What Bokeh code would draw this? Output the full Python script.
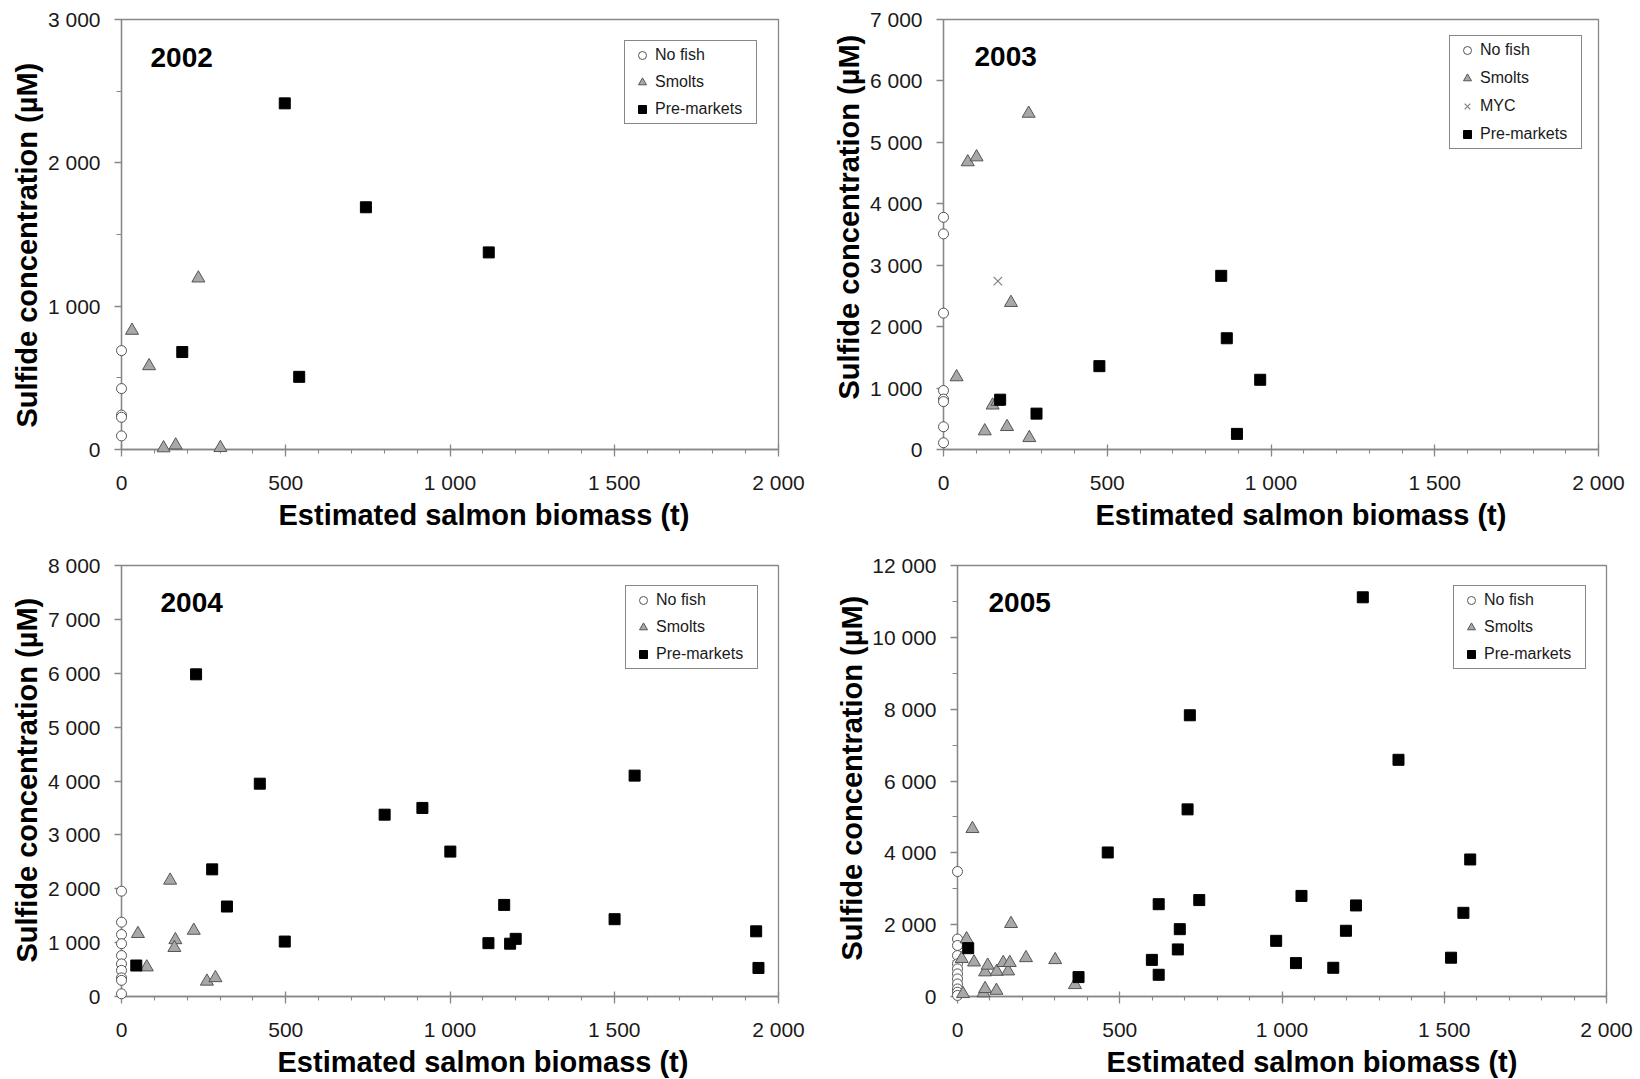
from bokeh.embed import file_html
from bokeh.layouts import column, row
from bokeh.models import FixedTicker, Label, Range1d, Title
from bokeh.plotting import figure
from bokeh.resources import INLINE

# ---------------------------------------------------------------------------
# Data: estimated salmon biomass (t) vs. sulfide concentration (µM)
# ---------------------------------------------------------------------------
categories = ["No fish", "Smolts", "MYC", "Pre-markets"]

# 2002
nofish_2002_biomass = [0, 0, 0, 0, 0]
nofish_2002_sulfide = [690, 425, 240, 225, 95]
smolts_2002_biomass = [32, 84, 234, 128, 165, 301]
smolts_2002_sulfide = [830, 583, 1195, 10, 30, 12]
premarkets_2002_biomass = [185, 497, 744, 541, 1118]
premarkets_2002_sulfide = [680, 2415, 1690, 507, 1375]

# 2003
nofish_2003_biomass = [0, 0, 0, 0, 0, 0, 0, 0]
nofish_2003_sulfide = [3780, 3510, 2220, 960, 820, 780, 370, 110]
smolts_2003_biomass = [74, 101, 260, 206, 40, 150, 165, 126, 194, 262]
smolts_2003_sulfide = [4680, 4760, 5470, 2390, 1180, 720, 780, 300, 370, 190]
myc_2003_biomass = [166]
myc_2003_sulfide = [2740]
premarkets_2003_biomass = [173, 284, 476, 848, 865, 967, 896]
premarkets_2003_sulfide = [811, 584, 1357, 2827, 1811, 1135, 254]

# 2004
nofish_2004_biomass = [0, 0, 0, 0, 0, 0, 0, 0, 0, 0]
nofish_2004_sulfide = [1955, 1380, 1150, 980, 760, 605, 485, 345, 300, 50]
smolts_2004_biomass = [50, 77, 148, 164, 161, 220, 260, 286]
smolts_2004_sulfide = [1165, 545, 2155, 1050, 905, 1225, 280, 345]
premarkets_2004_biomass = [45, 227, 276, 321, 421, 497, 801, 916, 1001, 1117,
                           1165, 1183, 1200, 1501, 1562, 1932, 1939]
premarkets_2004_sulfide = [575, 5980, 2360, 1670, 3950, 1020, 3375, 3500, 2690, 990,
                           1700, 980, 1070, 1435, 4100, 1210, 530]

# 2005
nofish_2005_biomass = [0, 0, 0, 0, 0, 0, 0, 0, 0, 0, 0, 0]
nofish_2005_sulfide = [3480, 1600, 1420, 1140, 910, 770, 630, 490, 350, 210, 120, 30]
smolts_2005_biomass = [46, 28, 13, 51, 85, 93, 121, 141, 156, 161, 165, 211, 301, 362,
                       80, 85, 120, 17]
smolts_2005_sulfide = [4670, 1600, 1050, 955, 680, 865, 695, 940, 705, 940, 2025, 1075,
                       1020, 325, 95, 215, 165, 75]
premarkets_2005_biomass = [33, 373, 463, 599, 620, 620, 679, 685, 709, 716, 745, 982,
                           1043, 1060, 1158, 1197, 1228, 1249, 1359, 1521, 1559, 1580]
premarkets_2005_sulfide = [1345, 540, 4010, 1020, 2570, 605, 1310, 1875, 5210, 7830, 2685,
                           1550, 930, 2800, 800, 1830, 2535, 11115, 6590, 1080, 2330, 3815]

# Axis ticks and their labels
biomass_ticks = [0, 500, 1000, 1500, 2000]
biomass_tick_labels = ["0", "500", "1 000", "1 500", "2 000"]
biomass_minor_ticks = [0, 100, 200, 300, 400, 500, 600, 700, 800, 900, 1000, 1100, 1200,
                       1300, 1400, 1500, 1600, 1700, 1800, 1900, 2000]

sulfide_ticks_2002 = [0, 1000, 2000, 3000]
sulfide_tick_labels_2002 = ["0", "1 000", "2 000", "3 000"]
sulfide_minor_2002 = [0, 500, 1000, 1500, 2000, 2500, 3000]

sulfide_ticks_2003 = [0, 1000, 2000, 3000, 4000, 5000, 6000, 7000]
sulfide_tick_labels_2003 = ["0", "1 000", "2 000", "3 000", "4 000", "5 000", "6 000", "7 000"]

sulfide_ticks_2004 = [0, 1000, 2000, 3000, 4000, 5000, 6000, 7000, 8000]
sulfide_tick_labels_2004 = ["0", "1 000", "2 000", "3 000", "4 000", "5 000", "6 000",
                            "7 000", "8 000"]

sulfide_ticks_2005 = [0, 2000, 4000, 6000, 8000, 10000, 12000]
sulfide_tick_labels_2005 = ["0", "2 000", "4 000", "6 000", "8 000", "10 000", "12 000"]
sulfide_minor_2005 = [0, 1000, 2000, 3000, 4000, 5000, 6000, 7000, 8000, 9000, 10000,
                      11000, 12000]

x_title = "Estimated salmon biomass (t)"
y_title = "Sulfide concentration (µM)"

# ---------------------------------------------------------------------------
# Styling
# ---------------------------------------------------------------------------
FONT = "Liberation Sans"
AXIS_GRAY = "#878787"
TEXT = "#1a1a1a"
X_MAX = 2000

MARKERS = {
    "No fish": dict(marker="circle", size=10, fill_color="white", line_color="#555555",
                    line_width=1),
    "Smolts": dict(marker="triangle", size=13, fill_color="#a8a8a8", line_color="#555555",
                   line_width=1),
    "MYC": dict(marker="x", size=12, fill_color=None, line_color="#808080", line_width=1.2),
    "Pre-markets": dict(marker="square", size=11, fill_color="black", line_color="black",
                        line_width=1),
}


def axis_title(text, offset, standoff):
    return Title(text=text, align="left", offset=offset, standoff=standoff,
                 text_font=FONT, text_font_style="bold", text_font_size="29px",
                 text_color="black")


def make_panel(year, borders, frame, y_max, y_ticks, y_labels, y_minor, series,
               legend_margin, legend_spacing, year_offset, xtitle_offset, ytitle_offset):
    left, right, top, bottom = borders
    fw, fh = frame
    p = figure(width=left + fw + right, height=top + fh + bottom,
               x_range=Range1d(0, X_MAX), y_range=Range1d(0, y_max),
               output_backend="svg", toolbar_location=None,
               min_border_left=left, min_border_right=right,
               min_border_top=top, min_border_bottom=bottom)
    p.background_fill_color = "white"
    p.border_fill_color = "white"
    p.outline_line_color = AXIS_GRAY
    p.outline_line_width = 1.3
    p.xgrid.visible = False
    p.ygrid.visible = False

    p.xaxis.ticker = FixedTicker(ticks=biomass_ticks, minor_ticks=biomass_minor_ticks)
    p.xaxis.major_label_overrides = dict(zip(biomass_ticks, biomass_tick_labels))
    p.yaxis.ticker = FixedTicker(ticks=y_ticks, minor_ticks=y_minor)
    p.yaxis.major_label_overrides = dict(zip(y_ticks, y_labels))

    for ax in (p.xaxis[0], p.yaxis[0]):
        ax.axis_line_color = AXIS_GRAY
        ax.axis_line_width = 1.3
        ax.major_tick_line_color = AXIS_GRAY
        ax.major_tick_line_width = 1.3
        ax.minor_tick_line_color = AXIS_GRAY
        ax.minor_tick_line_width = 1.1
        ax.major_label_text_font = FONT
        ax.major_label_text_font_size = "21px"
        ax.major_label_text_color = TEXT
        ax.major_label_standoff = 14
    p.xaxis.major_tick_in = 5
    p.xaxis.major_tick_out = 7
    p.xaxis.minor_tick_in = 0
    p.xaxis.minor_tick_out = 4
    p.yaxis.major_tick_in = 0
    p.yaxis.major_tick_out = 7
    p.yaxis.minor_tick_in = 0
    p.yaxis.minor_tick_out = 5

    # axis titles, stacked outside the axes
    p.add_layout(axis_title(x_title, xtitle_offset, 0), "below")
    p.add_layout(axis_title(y_title, ytitle_offset, 4), "left")

    for name, xs, ys in series:
        r = p.scatter(xs, ys, legend_label=name, **MARKERS[name])
        r.level = "overlay"

    lg = p.legend[0]
    lg.location = "top_right"
    lg.margin = legend_margin
    lg.padding = 4
    lg.spacing = legend_spacing
    lg.label_height = 20
    lg.glyph_height = 20
    lg.glyph_width = 26
    lg.label_standoff = 0
    lg.label_width = 97
    lg.label_text_font = FONT
    lg.label_text_font_size = "16px"
    lg.label_text_color = TEXT
    lg.border_line_color = AXIS_GRAY
    lg.border_line_width = 1.3
    lg.border_line_alpha = 1
    lg.background_fill_color = "white"
    lg.background_fill_alpha = 1

    # year tag, placed by pixel offset from the frame's top-left corner
    p.add_layout(Label(x=year_offset[0] / fw * X_MAX,
                       y=y_max - year_offset[1] / fh * y_max, text=year,
                       text_font=FONT, text_font_style="bold", text_font_size="28px",
                       text_color="black", text_baseline="alphabetic"))
    return p


p2002 = make_panel(
    "2002", (121, 42, 18, 90), (657, 432), 3000,
    sulfide_ticks_2002, sulfide_tick_labels_2002, sulfide_minor_2002,
    [("No fish", nofish_2002_biomass, nofish_2002_sulfide),
     ("Smolts", smolts_2002_biomass, smolts_2002_sulfide),
     ("Pre-markets", premarkets_2002_biomass, premarkets_2002_sulfide)],
    21, 7, (29, 38), 157, 22)

p2003 = make_panel(
    "2003", (123, 42, 19, 91), (655, 430), 7000,
    sulfide_ticks_2003, sulfide_tick_labels_2003, [],
    [("No fish", nofish_2003_biomass, nofish_2003_sulfide),
     ("Smolts", smolts_2003_biomass, smolts_2003_sulfide),
     ("MYC", myc_2003_biomass, myc_2003_sulfide),
     ("Pre-markets", premarkets_2003_biomass, premarkets_2003_sulfide)],
    16, 8, (31, 37), 152, 50)

p2004 = make_panel(
    "2004", (121, 42, 25, 83), (657, 431), 8000,
    sulfide_ticks_2004, sulfide_tick_labels_2004, [],
    [("No fish", nofish_2004_biomass, nofish_2004_sulfide),
     ("Smolts", smolts_2004_biomass, smolts_2004_sulfide),
     ("Pre-markets", premarkets_2004_biomass, premarkets_2004_sulfide)],
    20, 7, (39, 37), 156, 34)

p2005 = make_panel(
    "2005", (137, 34, 25, 83), (649, 431), 12000,
    sulfide_ticks_2005, sulfide_tick_labels_2005, sulfide_minor_2005,
    [("No fish", nofish_2005_biomass, nofish_2005_sulfide),
     ("Smolts", smolts_2005_biomass, smolts_2005_sulfide),
     ("Pre-markets", premarkets_2005_biomass, premarkets_2005_sulfide)],
    20, 7, (31, 37), 149, 36)

layout = column(row(p2002, p2003), row(p2004, p2005))

with open("out.html", "w") as f:
    f.write(file_html(layout, INLINE))
